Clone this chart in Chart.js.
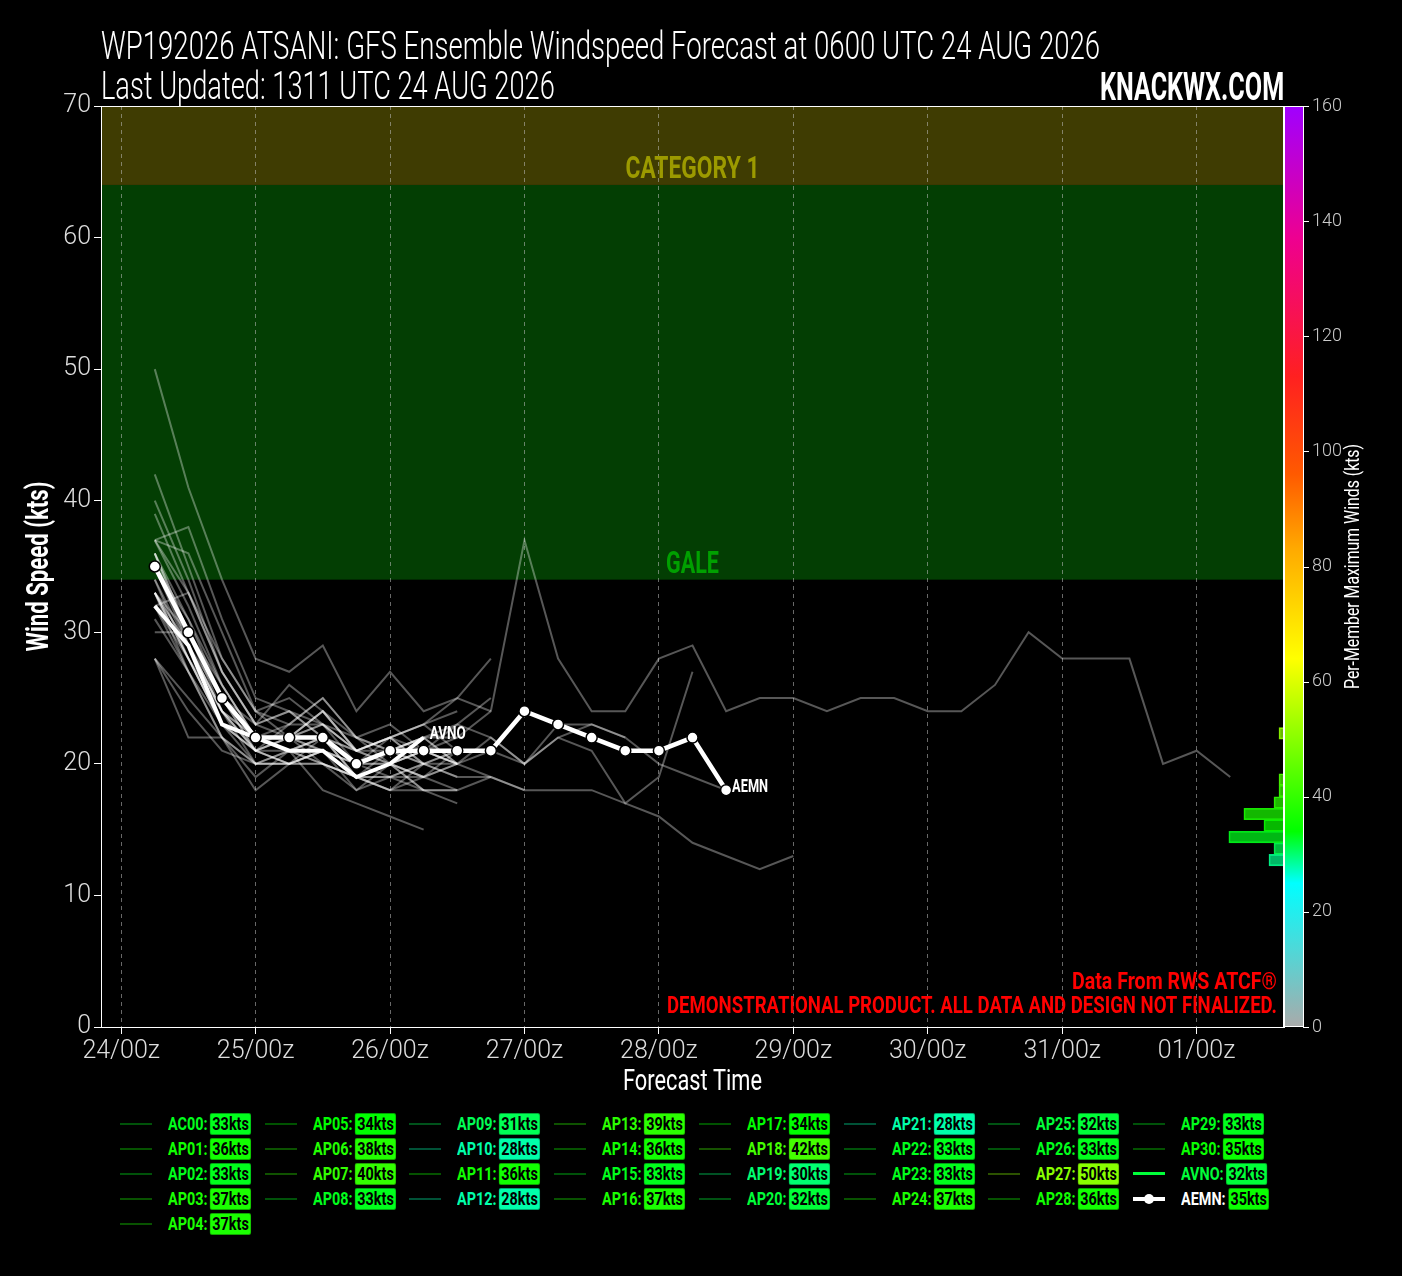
<!DOCTYPE html>
<html>
<head>
<meta charset="utf-8">
<script src="https://cdn.jsdelivr.net/npm/chart.js@4.4.1/dist/chart.umd.min.js"></script>
<style>
    body { margin: 0; background: #000; width: 1402px; height: 1276px; position: relative; overflow: hidden;
           font-family: 'Roboto', 'Liberation Sans', sans-serif; }
    #chart { position: absolute; left: 0; top: 0; }
    .fit { position: absolute; color: #fff; white-space: nowrap; transform-origin: left top; }
    .title { left: 101px; font-size: 39px; line-height: 40px; font-weight: 300; }
    .brand { top: 67px; font-size: 38px; line-height: 40px; font-weight: bold; }
    .leg { position: absolute; height: 24px; width: 140px; }
    .leg .ln { position: absolute; left: 0; top: 11px; width: 32px; height: 2px; }
    .leg .lab { position: absolute; left: 48px; top: 0; font-size: 18px; font-weight: bold; line-height: 24px;
                white-space: nowrap; transform: scaleX(0.8); transform-origin: left center; }
    .leg .badge { display: inline-block; color: #000; border-radius: 3px; padding: 0 2px; margin-left: 3px;
                  line-height: 20px; font-weight: bold; border: 1px solid rgba(0, 0, 0, 0.35); }
</style>
</head>
<body>
<canvas id="chart" width="1402" height="1110"></canvas>
<div class="fit title" id="t1" style="top:26px" data-w="999">WP192026 ATSANI: GFS Ensemble Windspeed Forecast at 0600 UTC 24 AUG 2026</div>
<div class="fit title" id="t2" style="top:66px" data-w="454">Last Updated: 1311 UTC 24 AUG 2026</div>
<div class="fit brand" id="t3" data-w="184" data-right="1284">KNACKWX.COM</div>
<div id="legend"></div>
<script>
// forecast hours from 24/00z
const forecastHours = [6, 12, 18, 24, 30, 36, 42, 48, 54, 60, 66, 72, 78, 84, 90, 96, 102, 108, 114, 120,
    126, 132, 138, 144, 150, 156, 162, 168, 174, 180, 186, 192, 198];
const tickHours = [0, 24, 48, 72, 96, 120, 144, 168, 192];
const tickLabels = ['24/00z', '25/00z', '26/00z', '27/00z', '28/00z', '29/00z', '30/00z', '31/00z', '01/00z'];

const memberNames = ['AC00', 'AP01', 'AP02', 'AP03', 'AP04', 'AP05', 'AP06', 'AP07', 'AP08', 'AP09', 'AP10',
    'AP11', 'AP12', 'AP13', 'AP14', 'AP15', 'AP16', 'AP17', 'AP18', 'AP19', 'AP20', 'AP21', 'AP22', 'AP23',
    'AP24', 'AP25', 'AP26', 'AP27', 'AP28', 'AP29', 'AP30'];
const memberMax = [33, 36, 33, 37, 37, 34, 38, 40, 33, 31, 28, 36, 28, 39, 36, 33, 37, 34, 42, 30, 32, 28,
    33, 33, 37, 32, 33, 50, 36, 33, 35];

const memberWinds = [
    [33, 28, 23, 21, 21, 20, 19, 19, 18, 18, 19],
    [36, 31, 25, 22, 22, 24, 21, 22, 23, 21],
    [33, 29, 25, 23, 24, 22, 21, 20, 19],
    [37, 36, 30, 24, 23, 25, 22, 21, 20, 19, 19, 18, 18, 18, 17, 16, 14, 13, 12, 13],
    [37, 32, 26, 22, 21, 20, 19, 18, 18, 18],
    [34, 29, 24, 21, 20, 21, 19, 18, 20, 19],
    [37, 38, 31, 25, 24, 23, 21, 22, 20],
    [40, 34, 27, 23, 24, 22, 20, 21, 22, 23, 25],
    [33, 28, 24, 22, 23, 23, 21, 22, 20],
    [31, 27, 22, 19, 21, 22, 20, 20, 19, 18],
    [28, 22, 22, 20, 20, 20, 19, 18, 19, 20],
    [36, 30, 24, 21, 23, 25, 22, 20, 21, 23, 22, 20, 23, 23, 22, 20, 19, 18],
    [28, 25, 22, 18, 20, 21, 18, 20, 18],
    [39, 33, 27, 23, 26, 24, 22, 23, 21, 20],
    [36, 29, 24, 20, 21, 22, 19, 20, 18, 17],
    [33, 30, 26, 22, 21, 18, 17, 16, 15],
    [35, 31, 26, 22, 22, 22, 19, 20, 21, 22, 24, 37, 28, 24, 24, 28, 29, 24, 25, 25, 24, 25, 25, 24, 24, 26,
        30, 28, 28, 28, 20, 21, 19],
    [34, 28, 23, 21, 22, 23, 20, 19, 20, 21],
    [42, 35, 28, 24, 22, 23, 21, 22, 21, 20],
    [30, 30, 25, 21, 22, 24, 21, 22, 23, 25, 24],
    [32, 27, 23, 21, 20, 20, 18, 19, 19, 20],
    [28, 24, 21, 20, 20, 22, 21, 20, 21, 20],
    [33, 28, 23, 20, 20, 21, 20, 22, 23, 24],
    [33, 27, 22, 20, 21, 22, 19, 20, 21, 20],
    [37, 33, 28, 24, 25, 23, 22, 21, 22, 20, 22, 20, 22, 21, 17, 19, 27],
    [32, 28, 23, 22, 22, 21, 20, 21, 20, 21],
    [33, 29, 24, 21, 22, 20, 19, 19, 20, 20, 21],
    [50, 41, 34, 28, 27, 29, 24, 27, 24, 25, 28],
    [36, 30, 25, 21, 20, 21, 19, 21, 22, 20, 19, 18],
    [32, 33, 27, 23, 22, 24, 21, 21, 22, 22],
    [35, 29, 24, 22, 22, 21, 20, 20, 19, 21, 21, 20, 22, 23, 22],
];

const avnoWinds = [32, 29, 23, 22, 21, 21, 19, 20, 22];
const avnoMax = 32;
const aemnWinds = [35, 30, 25, 22, 22, 22, 20, 21, 21, 21, 21, 24, 23, 22, 21, 21, 22, 18];
const aemnMax = 35;

const galeKts = 34;
const cat1Kts = 64;

// colour scale of the per-member maximum winds
const cmapStops = [[0, '#aaaaaa'], [25, '#00ffff'], [34, '#00ff00'], [64, '#ffff00'], [83, '#ffaa00'],
    [96, '#ff5a00'], [113, '#ff2020'], [137, '#ee0090'], [160, '#a000ff']];

function hexRgb(h) {
    return [parseInt(h.slice(1, 3), 16), parseInt(h.slice(3, 5), 16), parseInt(h.slice(5, 7), 16)];
}

function windColor(v, alpha) {
    let i = 0;
    while (i < cmapStops.length - 2 && v > cmapStops[i + 1][0]) i++;
    const [v0, c0] = cmapStops[i];
    const [v1, c1] = cmapStops[i + 1];
    const t = Math.max(0, Math.min(1, (v - v0) / (v1 - v0)));
    const a = hexRgb(c0), b = hexRgb(c1);
    const rgb = a.map((x, k) => Math.round(x + (b[k] - x) * t));
    return `rgba(${rgb[0]}, ${rgb[1]}, ${rgb[2]}, ${alpha === undefined ? 1 : alpha})`;
}

const toPoints = arr => arr.map((v, i) => ({ x: forecastHours[i], y: v }));

// histogram of maximum winds, 2 kt bins
const allMax = memberMax.concat([avnoMax, aemnMax]);
const histCounts = {};
allMax.forEach(v => {
    const b = Math.floor(v / 2) * 2;
    histCounts[b] = (histCounts[b] || 0) + 1;
});
const histData = Object.keys(histCounts).map(b => ({ x: histCounts[b], y: +b + 1 }));

const FONT = "'Roboto', 'Liberation Sans', sans-serif";
Chart.defaults.font.family = FONT;

// squeeze text to a width, to get the condensed look of the original
function fitText(ctx, text, x, y, width, align, angle) {
    const s = width / ctx.measureText(text).width;
    ctx.save();
    ctx.translate(x, y);
    if (angle) ctx.rotate(angle);
    ctx.scale(s, 1);
    ctx.textAlign = align;
    ctx.fillText(text, 0, 0);
    ctx.restore();
}

const bandPlugin = {
    id: 'bands',
    beforeDraw(chart) {
        const { ctx, chartArea: a, scales: { y } } = chart;
        ctx.save();
        ctx.fillStyle = '#000';
        ctx.fillRect(0, 0, chart.width, chart.height);
        const yGale = y.getPixelForValue(galeKts);
        const yCat = y.getPixelForValue(cat1Kts);
        const yTop = y.getPixelForValue(y.max);
        ctx.fillStyle = '#033e03';
        ctx.fillRect(a.left, yCat, a.width, yGale - yCat);
        ctx.fillStyle = '#3f3c02';
        ctx.fillRect(a.left, yTop, a.width, yCat - yTop);
        ctx.restore();
    },
    beforeDatasetsDraw(chart) {
        const { ctx, chartArea: a, scales: { y } } = chart;
        const cx = (a.left + a.right) / 2;
        ctx.save();
        ctx.font = `bold 31px ${FONT}`;
        ctx.textBaseline = 'middle';
        ctx.fillStyle = '#00a000';
        fitText(ctx, 'GALE', cx, y.getPixelForValue(galeKts + 1.1), 53, 'center');
        ctx.fillStyle = '#9c9a00';
        fitText(ctx, 'CATEGORY 1', cx, y.getPixelForValue(cat1Kts + 1.1), 134, 'center');
        ctx.restore();
    },
};

const overlayPlugin = {
    id: 'overlay',
    afterDraw(chart) {
        const { ctx, chartArea: a, scales: { y2 } } = chart;
        ctx.save();

        // colour bar
        const top = y2.getPixelForValue(y2.max);
        const bot = y2.getPixelForValue(y2.min);
        const grad = ctx.createLinearGradient(0, bot, 0, top);
        cmapStops.forEach(([v, c]) => grad.addColorStop(v / y2.max, c));
        ctx.fillStyle = grad;
        ctx.fillRect(a.right + 1, top, 18, bot - top);
        ctx.strokeStyle = '#fff';
        ctx.lineWidth = 1;
        ctx.strokeRect(a.right + 0.5, top + 0.5, 19, bot - top - 1);
        y2.ticks.forEach(t => {
            const py = Math.round(y2.getPixelForValue(t.value)) + 0.5;
            ctx.beginPath();
            ctx.moveTo(a.right + 19, py);
            ctx.lineTo(a.right + 25, py);
            ctx.stroke();
        });

        // frame
        ctx.strokeRect(a.left + 0.5, a.top + 0.5, a.width - 1, a.height);

        // axis titles
        ctx.fillStyle = '#fff';
        ctx.textBaseline = 'middle';
        const midY = (a.top + a.bottom) / 2;
        ctx.font = `20px ${FONT}`;
        fitText(ctx, 'Per-Member Maximum Winds (kts)', a.right + 70, midY, 245, 'center', -Math.PI / 2);
        ctx.font = `bold 31px ${FONT}`;
        fitText(ctx, 'Wind Speed (kts)', 40, midY, 170, 'center', -Math.PI / 2);
        ctx.font = `30px ${FONT}`;
        fitText(ctx, 'Forecast Time', (a.left + a.right) / 2, a.bottom + 55, 139, 'center');

        // run labels
        ctx.font = `bold 19px ${FONT}`;
        chart.data.datasets.forEach((ds, i) => {
            if (!ds.endLabel) return;
            const pts = chart.getDatasetMeta(i).data;
            const p = pts[pts.length - 1];
            fitText(ctx, ds.endLabel, p.x + 6, p.y - 3, 36, 'left');
        });

        // disclaimer
        ctx.font = `bold 24px ${FONT}`;
        ctx.fillStyle = '#ff0000';
        fitText(ctx, 'Data From RWS ATCF®', a.right - 7, a.bottom - 44, 205, 'right');
        fitText(ctx, 'DEMONSTRATIONAL PRODUCT. ALL DATA AND DESIGN NOT FINALIZED.', a.right - 7, a.bottom - 20, 610, 'right');
        ctx.restore();
    },
};

const datasets = [];
datasets.push({
    label: 'AEMN', data: toPoints(aemnWinds), endLabel: 'AEMN', order: 0,
    borderColor: '#fff', borderWidth: 4.5, pointRadius: 5.5, pointBackgroundColor: '#fff',
    pointBorderColor: '#000', pointBorderWidth: 1.5, xAxisID: 'x', yAxisID: 'y',
});
datasets.push({
    label: 'AVNO', data: toPoints(avnoWinds), endLabel: 'AVNO', order: 1,
    borderColor: '#fff', borderWidth: 4, pointRadius: 0, xAxisID: 'x', yAxisID: 'y',
});
memberNames.forEach((name, i) => {
    datasets.push({
        label: name, data: toPoints(memberWinds[i]), order: 2,
        borderColor: 'rgba(255, 255, 255, 0.34)', borderWidth: 2, pointRadius: 0, xAxisID: 'x', yAxisID: 'y',
    });
});
datasets.push({
    type: 'bar', label: 'hist', data: histData, order: 3, indexAxis: 'y', xAxisID: 'xh', yAxisID: 'y2',
    backgroundColor: histData.map(d => windColor(d.y, 0.72)),
    borderColor: histData.map(d => windColor(d.y, 0.9)),
    borderWidth: 1, barPercentage: 1, categoryPercentage: 1, grouped: false,
});

new Chart(document.getElementById('chart'), {
    type: 'line',
    data: { datasets },
    options: {
        responsive: false,
        devicePixelRatio: 1,
        animation: false,
        events: [],
        layout: { padding: { top: 106, left: 0, right: 0, bottom: 0 } },
        elements: { line: { tension: 0 } },
        plugins: { legend: { display: false }, tooltip: { enabled: false } },
        scales: {
            x: {
                type: 'linear', min: -3.6, max: 207.6,
                afterBuildTicks: s => { s.ticks = tickHours.map(v => ({ value: v })); },
                ticks: { color: '#ddd', font: { size: 25, weight: 300 }, padding: 3, maxRotation: 0,
                    callback: v => tickLabels[tickHours.indexOf(v)] },
                grid: { color: 'rgba(190, 190, 190, 0.55)', tickColor: '#fff', tickLength: 7 },
                border: { color: '#fff', dash: [4, 4] },
                afterFit: s => { s.height = 83; },
            },
            xh: {
                type: 'linear', axis: 'x', display: false, reverse: true, min: 0, max: 236,
            },
            y: {
                type: 'linear', position: 'left', min: 0, max: 70,
                ticks: { stepSize: 10, color: '#ddd', font: { size: 25, weight: 300 }, padding: 3 },
                grid: { drawOnChartArea: false, color: '#fff', tickLength: 7 },
                border: { color: '#fff' },
                afterFit: s => { s.width = 101; },
            },
            y2: {
                type: 'linear', position: 'right', min: 0, max: 160, offset: false,
                ticks: { stepSize: 20, color: '#ccc', font: { size: 18, weight: 300 }, padding: 28 },
                grid: { display: false, drawTicks: false, offset: false },
                border: { display: false },
                afterFit: s => { s.width = 118; },
            },
        },
    },
    plugins: [bandPlugin, overlayPlugin],
});

// squeeze the page titles to the widths they have in the original
document.querySelectorAll('.fit').forEach(el => {
    const s = +el.dataset.w / el.offsetWidth;
    el.style.transform = `scaleX(${s})`;
    if (el.dataset.right) el.style.left = (+el.dataset.right - +el.dataset.w) + 'px';
});

// legend below the chart
const legend = document.getElementById('legend');
const entries = memberNames.map((n, i) => ({ name: n, max: memberMax[i], kind: 'member' }))
    .concat([{ name: 'AVNO', max: avnoMax, kind: 'avno' }, { name: 'AEMN', max: aemnMax, kind: 'aemn' }]);

entries.forEach((e, i) => {
    const col = i < 5 ? 0 : 1 + Math.floor((i - 5) / 4);
    const row = i < 5 ? i : (i - 5) % 4;
    const div = document.createElement('div');
    div.className = 'leg';
    div.style.left = (120 + col * 144.7) + 'px';
    div.style.top = (1112 + row * 25) + 'px';

    let line = '';
    if (e.kind === 'member') {
        line = `<span class="ln" style="background:${windColor(e.max, 0.32)}"></span>`;
    } else if (e.kind === 'avno') {
        line = `<span class="ln" style="background:${windColor(e.max)};height:3px;top:10px"></span>`;
    } else {
        line = `<span class="ln" style="background:#fff;height:4px;top:10px"></span>` +
            `<span style="position:absolute;left:11px;top:7px;width:10px;height:10px;border-radius:50%;background:#fff"></span>`;
    }
    const labColor = e.kind === 'aemn' ? '#fff' : windColor(e.max);
    div.innerHTML = line +
        `<span class="lab" style="color:${labColor}">${e.name}:<span class="badge" style="background:${windColor(e.max)}">${e.max}kts</span></span>`;
    legend.appendChild(div);
});
</script>
</body>
</html>
